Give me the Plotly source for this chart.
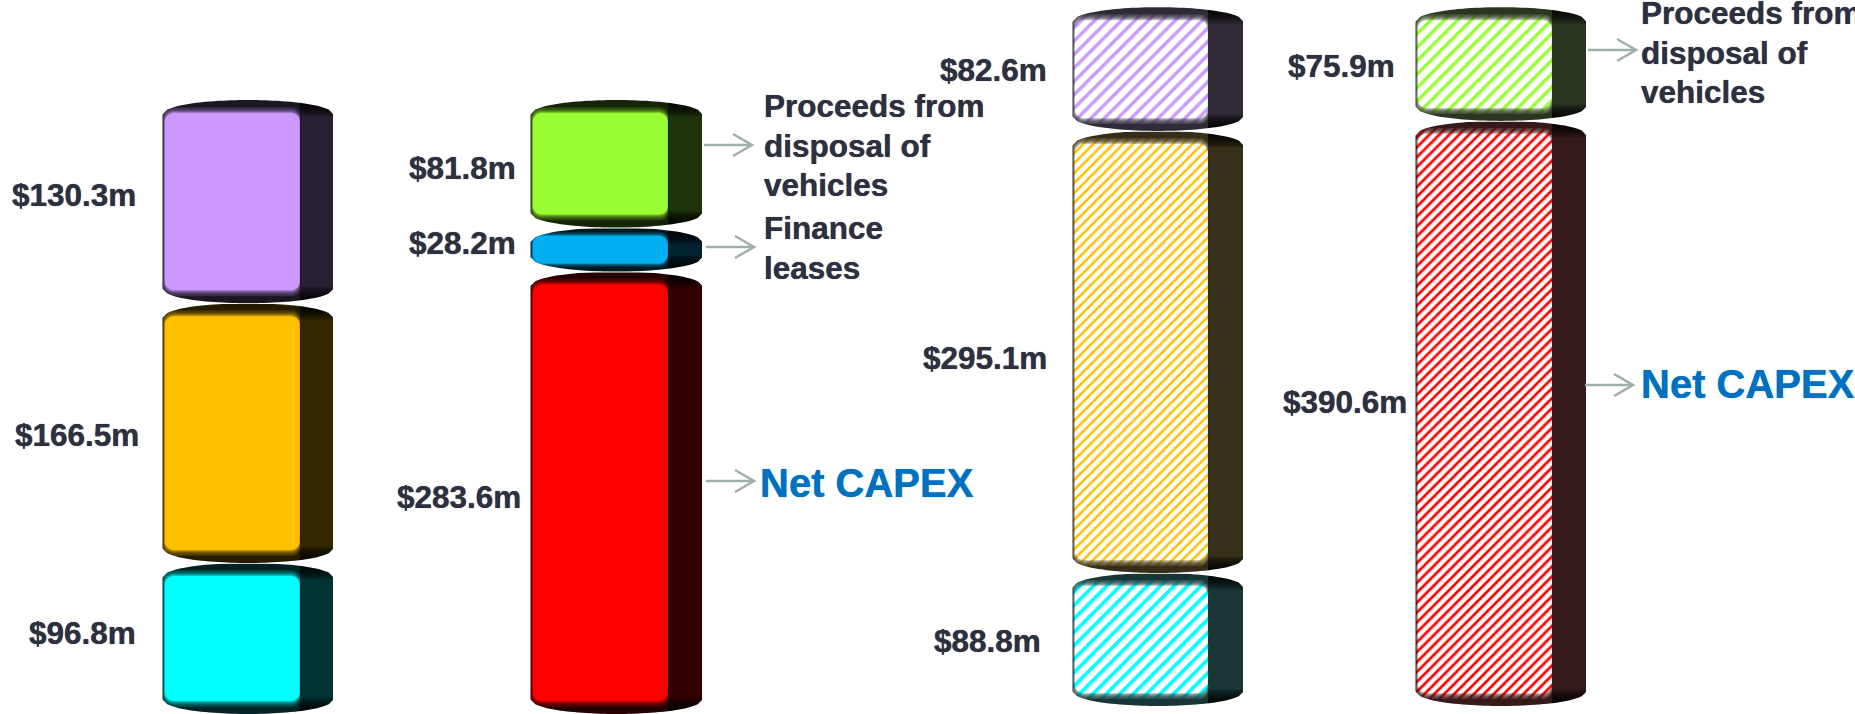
import plotly.graph_objects as go
import numpy as np

# Values in $m, bottom segment first
stack_1_values = [96.8, 166.5, 130.3]
stack_2_values = [283.6, 28.2, 81.8]
stack_3_values = [88.8, 295.1, 82.6]
stack_4_values = [390.6, 75.9]

CYAN, AMBER, LILAC = "#00FFFF", "#FFC000", "#CC99FF"
RED, BLUE, LIME = "#FF0000", "#00B0F0", "#99FF33"

stack_1_colors = [CYAN, AMBER, LILAC]
stack_2_colors = [RED, BLUE, LIME]
stack_3_colors = [CYAN, AMBER, LILAC]
stack_4_colors = [RED, LIME]

label_ink = "#2E3040"
note_blue = "#0070C0"
arrow_ink = "#9FB0A6"
label_font = "Liberation Sans"

# Plot scale: pixels per $m and the pixel row of zero on each y axis
W, H = 1855, 714
LEFT_SCALE, LEFT_ZERO = 1.56, 714
RIGHT_SCALE, RIGHT_ZERO = 1.498, 706

CAP = 14  # depth of the curved end of each drum, px


def rgb(hex_color):
    return tuple(int(hex_color[i:i + 2], 16) for i in (1, 3, 5))


def shade(hex_color, k, alpha=1.0):
    r, g, b = rgb(hex_color)
    return f"rgba({r * k:.0f},{g * k:.0f},{b * k:.0f},{alpha})"


def side_tint(hex_color, alpha=1.0):
    # washed-out side panel used by the hatched drums
    r, g, b = rgb(hex_color)
    return f"rgba({r * 0.11 + 26:.0f},{g * 0.11 + 26:.0f},{b * 0.11 + 26:.0f},{alpha})"


def arc(x_a, x_b, n=41):
    t = np.linspace(-1, 1, n)
    xs = (x_a + x_b) / 2 + t * (x_b - x_a) / 2
    return xs, 1 - np.sqrt(1 - t ** 2)


def rounded_rect(x_a, x_b, y_lo, y_hi, rx, ry, n=8):
    # clockwise loop with elliptical corners
    a = np.linspace(0, np.pi / 2, n)
    xs = np.concatenate([
        x_a + rx - rx * np.cos(a), x_b - rx + rx * np.sin(a),
        x_b - rx + rx * np.cos(a), x_a + rx - rx * np.sin(a),
    ])
    ys = np.concatenate([
        y_hi - ry + ry * np.sin(a), y_hi - ry + ry * np.cos(a),
        y_lo + ry - ry * np.sin(a), y_lo + ry - ry * np.cos(a),
    ])
    return np.append(xs, xs[0]), np.append(ys, ys[0])


def poly(fig, xs, ys, color, yaxis):
    fig.add_trace(go.Scatter(
        x=list(xs), y=list(ys), mode="lines", fill="toself", fillcolor=color,
        line=dict(width=0, simplify=False), hoverinfo="skip",
        showlegend=False, yaxis=yaxis,
    ))


def draw_stack(fig, values, colors, x0, xf, x1, yaxis, scale, hatch=None):
    hatch = hatch or {}
    px = 1 / scale
    base = 0.0
    for value, color in zip(values, colors):
        top = base + value
        hatched = color in hatch
        pattern = None
        side = shade(color, 0.2)
        if hatched:
            size, solidity = hatch[color]
            pattern = dict(shape="/", fgcolor=color, fgopacity=1, bgcolor="white",
                           size=size, solidity=solidity)
            side = side_tint(color)

        # front face and side panel, both as tall as the value
        fig.add_trace(go.Bar(
            x=[(x0 + xf) / 2], width=[xf - x0], y=[value], base=[base],
            marker=dict(color=color, opacity=1, line=dict(width=0), pattern=pattern),
            hoverinfo="skip", showlegend=False, yaxis=yaxis,
        ))
        fig.add_trace(go.Bar(
            x=[(xf + x1) / 2], width=[x1 - xf], y=[value], base=[base],
            marker=dict(color=side, opacity=1, line=dict(width=0)),
            hoverinfo="skip", showlegend=False, yaxis=yaxis,
        ))

        # soft bevel round the face: dark frames with a shrinking window;
        # shallow drums get a thinner band
        fit = max(0.62, min(1.0, value * scale / 70))
        for i in range(7):
            alpha = 1.0 if i == 0 else 0.28
            ink = side_tint(color, alpha) if hatched else shade(color, 0.14, alpha)
            inset = (7 + i * 1.0) * fit * px
            hx, hy = rounded_rect(
                x0 - 0.5 + i * 0.4, xf + 0.5 - i * 0.12,
                base + inset, top - inset, 9, 9 * px,
            )
            ox = [x0, x0, xf, xf, x0]
            oy = [base, top, top, base, base]
            poly(fig, ox + list(hx[::-1]) + [ox[0]], oy + list(hy[::-1]) + [oy[0]], ink, yaxis)

        # the side panel darkens towards both ends
        for k in range(1, 7):
            h = (3 + 2.2 * k) * px
            ink = "rgba(0,0,0,0.24)"
            poly(fig, [xf, xf, x1, x1], [top, top - h, top - h, top], ink, yaxis)
            poly(fig, [xf, xf, x1, x1], [base, base + h, base + h, base], ink, yaxis)

        # white corners outside the curved ends
        xs, dip = arc(x0, x1)
        poly(fig, [x0 - 1] + list(xs) + [x1 + 1, x1 + 1, x0 - 1],
             [top - CAP * px] + list(top - dip * CAP * px) + [top - CAP * px, top + 0.8 * px, top + 0.8 * px],
             "white", yaxis)
        poly(fig, [x0 - 1] + list(xs) + [x1 + 1, x1 + 1, x0 - 1],
             [base + CAP * px] + list(base + dip * CAP * px) + [base + CAP * px, base - 0.8 * px, base - 0.8 * px],
             "white", yaxis)
        base = top


fig = go.Figure()
draw_stack(fig, stack_1_values, stack_1_colors, 163, 300, 333, "y", LEFT_SCALE)
draw_stack(fig, stack_2_values, stack_2_colors, 531, 668, 702, "y", LEFT_SCALE)
draw_stack(fig, stack_3_values, stack_3_colors, 1073, 1208, 1243, "y2", RIGHT_SCALE,
           hatch={LILAC: (9.5, 0.36), AMBER: (7, 0.36), CYAN: (9.5, 0.38)})
draw_stack(fig, stack_4_values, stack_4_colors, 1416, 1552, 1586, "y2", RIGHT_SCALE,
           hatch={RED: (7, 0.38), LIME: (9.5, 0.36)})


def page_y(py):
    return 1 - py / H


def text(x, py, s, anchor, size=31.5, color=label_ink):
    fig.add_annotation(x=x, y=page_y(py), xref="x", yref="paper", text=s,
                       showarrow=False, xanchor=anchor, yanchor="middle", align="left",
                       font=dict(family=label_font, size=size, color=color, weight=700,
                                 shadow=f"0 0 0.8px {color}"))


def note(x, first_row, lines, step=39.6):
    for i, line in enumerate(lines):
        text(x, first_row + i * step, line, "left")


def money(v):
    return f"${v:.1f}m"


# Value labels: right edge and row of each, listed per stack
for values, spots in (
    (stack_1_values, [(138, 633), (141, 435), (138, 195)]),
    (stack_2_values, [(523, 497), (518, 243), (518, 168)]),
    (stack_3_values, [(1043, 641), (1049, 358), (1049, 70)]),
    (stack_4_values, [(1409, 402), (1397, 66)]),
):
    for v, (x, py) in zip(values, spots):
        text(x, py, money(v), "right")

note(762, 106, ["Proceeds from", "disposal of", "vehicles"])
note(762, 228, ["Finance", "leases"])
text(758, 483, "Net CAPEX", "left", size=40, color=note_blue)
note(1639, 13, ["Proceeds from", "disposal of", "vehicles"])
text(1639, 384, "Net CAPEX", "left", size=40, color=note_blue)

# Open-headed pointers from the drums to their notes
shapes = []
for x_a, x_b, py in ((704, 752, 145), (706, 754, 247), (706, 754, 481),
                     (1588, 1636, 50), (1585, 1633, 385)):
    up, mid, down = page_y(py - 11), page_y(py), page_y(py + 11)
    shapes.append(dict(
        type="path", xref="x", yref="paper",
        path=f"M {x_a} {mid} L {x_b} {mid} M {x_b - 19} {up} L {x_b} {mid} L {x_b - 19} {down}",
        line=dict(color=arrow_ink, width=2.5),
    ))

fig.update_layout(
    width=W, height=H, margin=dict(l=0, r=0, t=0, b=0),
    paper_bgcolor="white", plot_bgcolor="white", barmode="overlay", showlegend=False,
    shapes=shapes,
    xaxis=dict(range=[0, W], visible=False, fixedrange=True),
    yaxis=dict(range=[(LEFT_ZERO - H) / LEFT_SCALE, LEFT_ZERO / LEFT_SCALE],
               visible=False, fixedrange=True),
    yaxis2=dict(range=[(RIGHT_ZERO - H) / RIGHT_SCALE, RIGHT_ZERO / RIGHT_SCALE],
                visible=False, fixedrange=True, overlaying="y"),
)

fig.write_html("out.html", config=dict(displayModeBar=False))
